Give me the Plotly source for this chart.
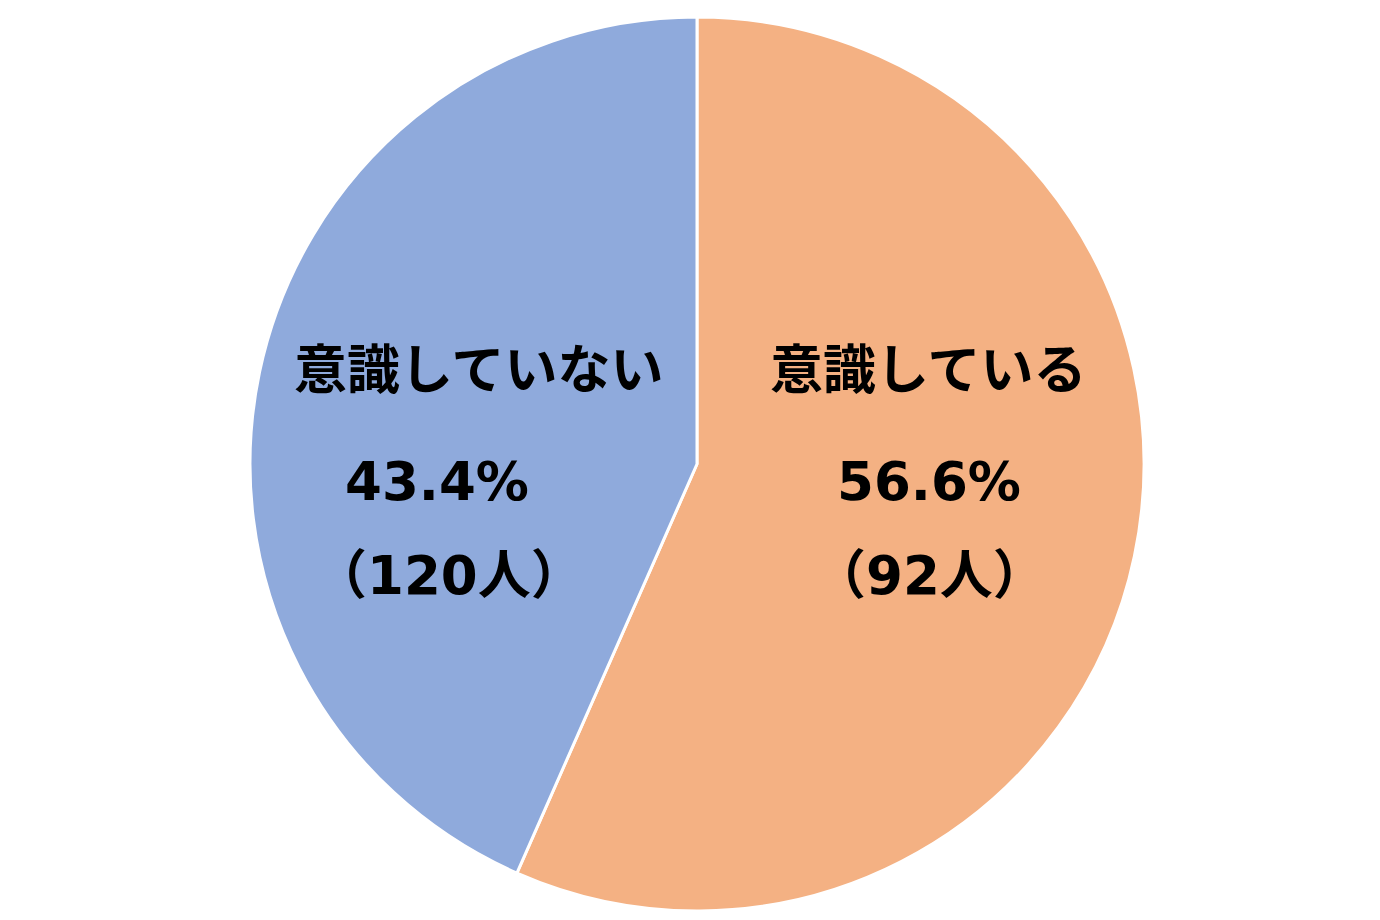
import plotly.graph_objects as go

labels = ["意識している", "意識していない"]
percents = [56.6, 43.4]
counts = [92, 120]
colors = ["#F4B183", "#8FAADC"]

W, H = 1380, 920
cx, cy, r = 689, 456, 447

fig = go.Figure(go.Pie(
    labels=labels,
    values=percents,
    sort=False,
    direction="clockwise",
    rotation=0,
    textinfo="none",
    hoverinfo="label+percent",
    marker=dict(colors=colors, line=dict(color="white", width=3)),
    domain=dict(x=[(cx - r) / W, (cx + r) / W], y=[1 - (cy + r) / H, 1 - (cy - r) / H]),
    showlegend=False,
))

font = dict(family="DejaVu Sans, Noto Sans CJK JP, sans-serif", size=53, color="#000000")
# label block centres (pixel positions)
label_pos = [(920, 362, 921, 473, 921, 567), (470, 362, 429, 473, 441, 567)]
for i, lab in enumerate(labels):
    lx, ly, px, py, nx, ny = label_pos[i]
    for txt, x, y in [(lab, lx, ly), (f"{percents[i]}%", px, py), (f"（{counts[i]}人）", nx, ny)]:
        fig.add_annotation(text=f"<b>{txt}</b>", x=x / W, y=1 - y / H, xref="paper", yref="paper",
                           showarrow=False, font=font, xanchor="center", yanchor="middle")

fig.update_layout(width=W, height=H, margin=dict(l=0, r=0, t=0, b=0),
                  paper_bgcolor="white", plot_bgcolor="white")
fig.write_html("out.html")
